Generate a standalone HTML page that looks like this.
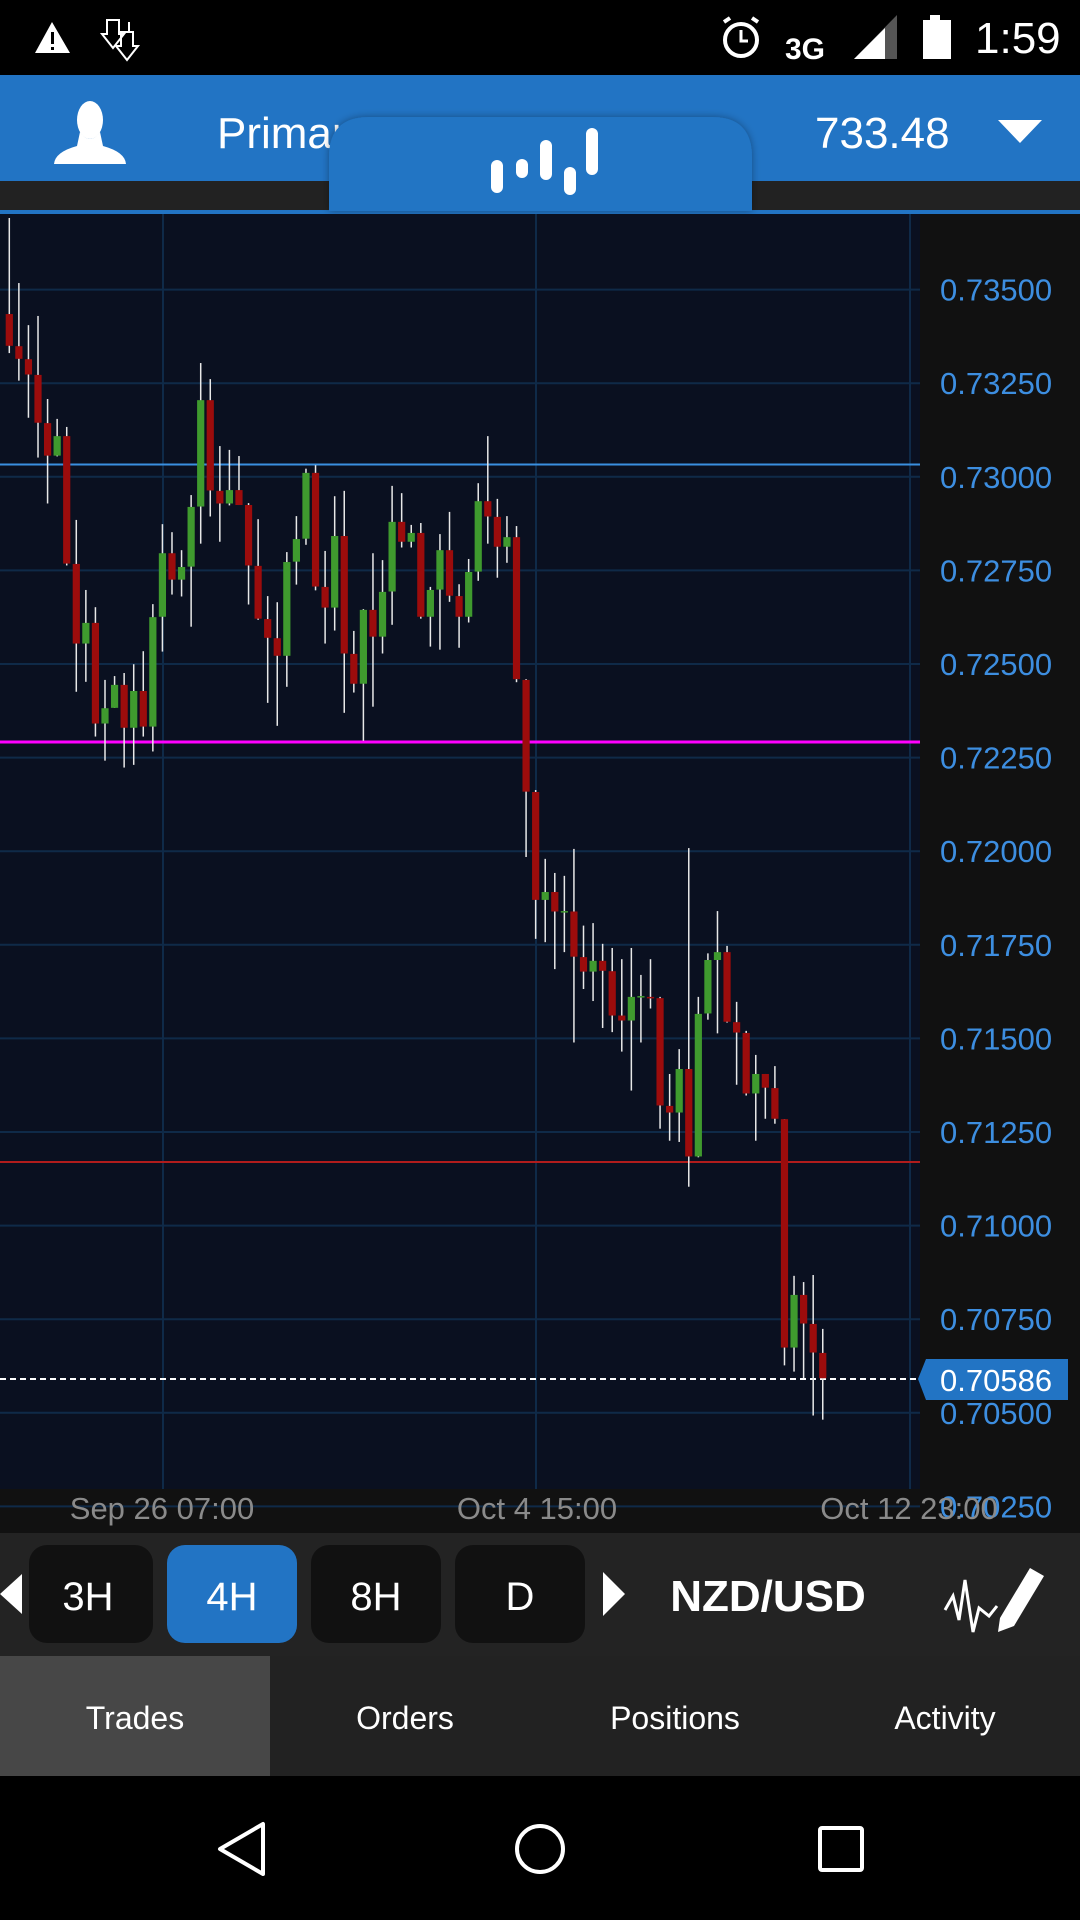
<!DOCTYPE html>
<html><head><meta charset="utf-8">
<style>
html,body{margin:0;padding:0;background:#000;}
svg{display:block;}
text{font-family:"Liberation Sans",sans-serif;}
</style></head>
<body>
<svg id="s" width="1080" height="1920" viewBox="0 0 1080 1920" xmlns="http://www.w3.org/2000/svg">
<!-- status bar -->
<rect x="0" y="0" width="1080" height="75" fill="#000"/>
<polygon points="52,22 35,53 70,53" fill="#fff"/>
<rect x="51" y="32" width="3" height="12" fill="#000"/><rect x="51" y="47" width="3" height="3" fill="#000"/>
<g fill="none" stroke="#fff" stroke-width="2">
<path d="M107,20 v14 h-5 l11,14 l11,-14 h-5 v-14 z"/>
<path d="M121,32 v14 h-5 l11,14 l11,-14 h-5 v-14 z"/>
<path d="M129,22 v10"/>
</g>
<circle cx="741" cy="40" r="16" fill="none" stroke="#fff" stroke-width="4"/>
<path d="M741,30 v11 h7" stroke="#fff" stroke-width="3" fill="none"/>
<path d="M724,22 l6,-4 M758,22 l-6,-4" stroke="#fff" stroke-width="4"/>
<text x="785" y="59" font-size="30" font-weight="bold" fill="#fff">3G</text>
<polygon points="854,59 897,15 897,59" fill="#555"/>
<polygon points="854,59 885,28 885,59" fill="#fff"/>
<rect x="930" y="15" width="10" height="6" fill="#fff"/>
<rect x="923" y="20" width="28" height="39" fill="#fff"/>
<text x="975" y="53" font-size="44" fill="#fff">1:59</text>
<!-- header -->
<rect x="0" y="75" width="1080" height="106" fill="#2274c4"/>
<rect x="0" y="181" width="1080" height="30" fill="#222"/>
<rect x="0" y="210" width="1080" height="4" fill="#2274c4"/>
<g fill="#fff">
<ellipse cx="90" cy="120" rx="13" ry="19"/>
<path d="M80,132 q10,14 20,0 l3,14 q22,6 23,18 h-72 q1,-12 23,-18 z"/>
</g>
<text x="217" y="148" font-size="44" fill="#fff">Primar</text>
<text x="815" y="148" font-size="44" fill="#fff">733.48</text>
<polygon points="998,120 1042,120 1020,143" fill="#fff"/>
<defs><filter id="sh" x="-10%" y="-20%" width="120%" height="140%"><feDropShadow dx="0" dy="0" stdDeviation="4" flood-opacity="0.35"/></filter></defs>
<path d="M329,211 V157 Q329,117 369,117 H712 Q752,117 752,157 V211 Z" fill="#2274c4" filter="url(#sh)"/>
<g fill="#fff">
<rect x="491" y="160" width="12" height="33" rx="6"/>
<rect x="516" y="159" width="12" height="19" rx="6"/>
<rect x="540" y="140" width="12" height="40" rx="6"/>
<rect x="564" y="167" width="12" height="28" rx="6"/>
<rect x="586" y="128" width="12" height="47" rx="6"/>
</g>
<!-- chart -->
<rect x="0" y="214" width="920" height="1276" fill="#0a1020"/>
<rect x="920" y="214" width="160" height="1319" fill="#111"/>
<rect x="0" y="1489" width="920" height="44" fill="#111"/>
<g id="grid" stroke="#0f2a48" stroke-width="2"></g>
<g id="lines"></g>
<g id="candles"></g>
<g id="labels" font-size="31" fill="#3d8ee0"></g>
<!-- price tag -->
<polygon points="918,1379 926,1359 1068,1359 1068,1400 926,1400" fill="#2274c4"/>
<text x="940" y="1391" font-size="31" fill="#fff">0.70586</text>
<!-- date labels -->
<g font-size="31" fill="#8a8a8a" text-anchor="middle">
<text x="162" y="1519">Sep 26 07:00</text>
<text x="537" y="1519">Oct 4 15:00</text>
<text x="909" y="1519">Oct 12 23:00</text>
</g>
<!-- bottom controls -->
<rect x="0" y="1533" width="1080" height="123" fill="#232323"/>
<polygon points="0,1594 22,1574 22,1614" fill="#fff"/>
<rect x="29" y="1545" width="124" height="98" rx="18" fill="#111"/>
<rect x="167" y="1545" width="130" height="98" rx="18" fill="#2274c4"/>
<rect x="311" y="1545" width="130" height="98" rx="18" fill="#111"/>
<rect x="455" y="1545" width="130" height="98" rx="18" fill="#111"/>
<g font-size="40" fill="#fff" text-anchor="middle">
<text x="88" y="1610">3H</text>
<text x="232" y="1610">4H</text>
<text x="376" y="1610">8H</text>
<text x="520" y="1610">D</text>
</g>
<polygon points="603,1572 625,1594 603,1616" fill="#fff"/>
<text x="768" y="1611" font-size="44" font-weight="bold" fill="#fff" text-anchor="middle">NZD/USD</text>
<path d="M945,1610 l8,-14 l6,24 l6,-40 l8,52 l6,-24 l10,8 l8,-10" fill="none" stroke="#fff" stroke-width="3"/>
<path d="M1000,1618 l30,-50 l14,8 l-30,50 l-16,6 z" fill="#fff"/>
<!-- tabs -->
<rect x="0" y="1656" width="1080" height="120" fill="#222"/>
<rect x="0" y="1656" width="270" height="120" fill="#474747"/>
<g font-size="32" fill="#fff" text-anchor="middle">
<text x="135" y="1729">Trades</text>
<text x="405" y="1729">Orders</text>
<text x="675" y="1729">Positions</text>
<text x="945" y="1729">Activity</text>
</g>
<!-- nav -->
<rect x="0" y="1776" width="1080" height="144" fill="#000"/>
<polygon points="220,1849 263,1824 263,1874" fill="none" stroke="#fff" stroke-width="4" stroke-linejoin="round"/>
<circle cx="540" cy="1849" r="23" fill="none" stroke="#fff" stroke-width="4"/>
<rect x="820" y="1828" width="42" height="42" rx="2" fill="none" stroke="#fff" stroke-width="4"/>
</svg>
<script>
var NS="http://www.w3.org/2000/svg";
function el(p,t,a){var e=document.createElementNS(NS,t);for(var k in a)e.setAttribute(k,a[k]);document.getElementById(p).appendChild(e);return e;}
// grid
for(var k=0;k<14;k++){var y=289.6+93.6*k;el("grid","line",{x1:0,x2:920,y1:y,y2:y});}
[163,536,910].forEach(function(x){el("grid","line",{x1:x,x2:x,y1:214,y2:1489});});
// labels
var vals=["0.73500","0.73250","0.73000","0.72750","0.72500","0.72250","0.72000","0.71750","0.71500","0.71250","0.71000","0.70750","0.70500","0.70250"];
vals.forEach(function(v,k){var t=el("labels","text",{x:940,y:289.6+93.6*k+11});t.textContent=v;});
// lines
el("lines","line",{x1:0,x2:920,y1:464.5,y2:464.5,stroke:"#3a8fe0","stroke-width":2});
el("lines","line",{x1:0,x2:920,y1:742,y2:742,stroke:"#ff00ff","stroke-width":3});
el("lines","line",{x1:0,x2:920,y1:1162,y2:1162,stroke:"#b01c1c","stroke-width":2});
el("lines","line",{x1:0,x2:918,y1:1379,y2:1379,stroke:"#fff","stroke-width":2,"stroke-dasharray":"6,4"});
// candles zoom1 coords: wt,wb,bt,bb,color
var z1=[[47,400,298,381,0],[217,472,382,415,0],[327,569,416,456,0],[303,673,457,582,0],[520,793,583,668,0],[572,670,617,668,1],[593,955,617,950,0],[836,1285,951,1159,0],[1019,1259,1105,1159,1],[1064,1402,1105,1368,0],[1254,1465,1328,1368,1],[1244,1327,1267,1327,1],[1236,1483,1267,1379,0],[1213,1476,1283,1379,1],[1179,1402,1283,1376,0],[1056,1441,1090,1376,1],[847,1180,923,1089,1],[868,1031,923,992,0],[915,1036,959,992,1],[771,1115,802,958,1],[426,898,523,801,1],[468,827,523,759,0],[643,893,760,793,0],[653,798,758,793,1],[669,797,758,797,0],[792,1057,797,955,0],[834,1097,956,1094,0],[1035,1314,1095,1144,0],[1051,1374,1145,1191,0],[920,1272,946,1191,1],[826,1005,886,945,1],[702,901,713,885,1],[693,1020,713,1010,0],[917,1159,1011,1065,0],[774,1125,878,1065,1],[760,1340,878,1185,0],[1126,1287,1186,1264,0],[1069,1413,1071,1264,1],[923,1324,1071,1141,0],[941,1185,1024,1141,1],[747,1110,841,1023,1],[766,908,841,893,0],[849,908,870,893,1],[844,1094,870,1089,0],[1011,1167,1019,1089,1],[873,1175,915,1018,1],[815,1050,915,1034,0],[1004,1170,1035,1089,0],[938,1104,972,1089,1],[740,995,787,971,1],[617,898,787,827,0],[781,987,828,906,0],[826,948,881,906,1],[852,1260,881,1252,0],[1252,1568,1254,1546,0]];
var z2=[[0,335,0,241,0],[142,343,222,241,1],[176,408,222,269,0],[183,367,268,270,1],[118,585,269,378,0],[303,456,379,414,0],[297,485,388,414,1],[347,550,388,412,0],[357,560,413,520,0],[384,607,520,532,0],[357,701,475,532,1],[422,585,473,475,1],[384,503,475,477,0],[475,793,478,737,0],[661,822,738,754,0],[601,825,649,754,1],[116,933,649,860,0],[475,862,516,860,1],[370,530,386,515,1],[268,563,367,386,1],[352,537,367,535,0],[487,687,536,561,0],[557,713,562,708,0],[615,822,661,708,1],[661,769,661,694,0],[642,781,695,769,0],[770,1364,770,1321,0],[1148,1379,1194,1321,1],[1163,1395,1194,1263,0],[1146,1485,1264,1333,0],[1276,1495,1334,1395,0]];
var C=[];
z1.forEach(function(c){C.push([200+c[0]*0.3827,200+c[1]*0.3827,200+c[2]*0.3827,200+c[3]*0.3827,c[4]]);});
C[54][1]=857;
z2.forEach(function(c){C.push([800+c[0]*0.4145,800+c[1]*0.4145,800+c[2]*0.4145,800+c[3]*0.4145,c[4]]);});
C[55][0]=790;C[55][2]=792;
C.forEach(function(c,i){
 var x=9.3+9.57*i;
 el("candles","rect",{x:x-0.75,y:c[0],width:1.5,height:Math.max(1,c[1]-c[0]),fill:"#e8e8e8"});
 var h=Math.max(1.5,c[3]-c[2]);
 el("candles","rect",{x:x-3.6,y:c[2],width:7.2,height:h,fill:c[4]?"#3f9a2e":"#9c0c0c"});
});
</script>
</body></html>
